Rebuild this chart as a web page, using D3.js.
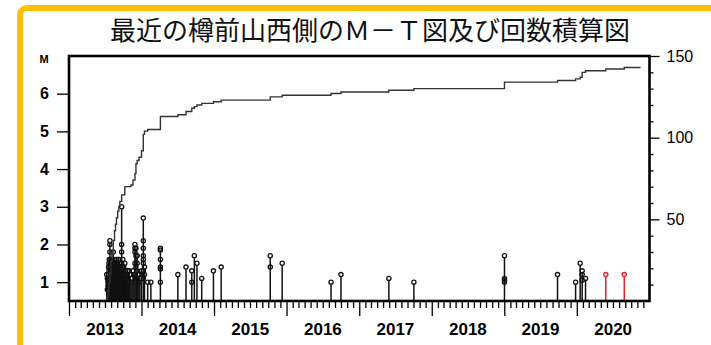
<!DOCTYPE html>
<html>
<head>
<meta charset="utf-8">
<script src="https://cdn.jsdelivr.net/npm/d3@7"></script>
<style>
  html, body { margin: 0; padding: 0; background: #fff; }
  svg { display: block; }
</style>
</head>
<body>
<svg id="chart" width="711" height="345"></svg>
<script>
// Title
const titleText = "最近の樽前山西側のＭ－Ｔ図及び回数積算図";

// Axis ticks
const yearLabels = ["2013", "2014", "2015", "2016", "2017", "2018", "2019", "2020"];
const magTicks = [1, 2, 3, 4, 5, 6];
const countTicks = [50, 100, 150];
const countMinorTicks = [10, 20, 30, 40, 60, 70, 80, 90, 110, 120, 130, 140];

// Earthquakes: date and magnitude (black)
const quakeDates = [
  "2013-07-10", "2013-07-13", "2013-07-13", "2013-07-16", "2013-07-16", "2013-07-19", "2013-07-19",
  "2013-07-21", "2013-07-21", "2013-07-23", "2013-07-23",
  "2013-07-26", "2013-07-26", "2013-07-26", "2013-07-26", "2013-07-26", "2013-07-28", "2013-07-28",
  "2013-07-31", "2013-07-31", "2013-07-31", "2013-08-02", "2013-08-02",
  "2013-08-05", "2013-08-05", "2013-08-05", "2013-08-08", "2013-08-08",
  "2013-08-12", "2013-08-12", "2013-08-12", "2013-08-15", "2013-08-15",
  "2013-08-18", "2013-08-18", "2013-08-18", "2013-08-20", "2013-08-20",
  "2013-08-23", "2013-08-23", "2013-08-26", "2013-08-28", "2013-08-28", "2013-08-28", "2013-08-31",
  "2013-09-03", "2013-09-03", "2013-09-03", "2013-09-06", "2013-09-06", "2013-09-09", "2013-09-09",
  "2013-09-12", "2013-09-14", "2013-09-14", "2013-09-18", "2013-09-18",
  "2013-09-23", "2013-09-23", "2013-09-23", "2013-09-23", "2013-09-26",
  "2013-09-29", "2013-09-29", "2013-10-01", "2013-10-04", "2013-10-06", "2013-10-09", "2013-10-09",
  "2013-10-13", "2013-10-17", "2013-10-20", "2013-10-24", "2013-10-27", "2013-10-31",
  "2013-11-04", "2013-11-09", "2013-11-14", "2013-11-19", "2013-11-24",
  "2013-11-29", "2013-11-29", "2013-11-29", "2013-11-29", "2013-11-29",
  "2013-12-04", "2013-12-04", "2013-12-04", "2013-12-07", "2013-12-10", "2013-12-10", "2013-12-10",
  "2013-12-14", "2013-12-19", "2013-12-19", "2013-12-24", "2014-01-01",
  "2014-01-10", "2014-01-10", "2014-01-10", "2014-01-10", "2014-01-10", "2014-01-10", "2014-01-10", "2014-01-10",
  "2014-01-16", "2014-01-16", "2014-02-01", "2014-02-17",
  "2014-04-06", "2014-04-06", "2014-04-06", "2014-04-06", "2014-04-06", "2014-04-06",
  "2014-07-03", "2014-08-13", "2014-09-11", "2014-09-11", "2014-09-24", "2014-10-07",
  "2014-10-31", "2014-12-29", "2015-02-06", "2015-10-11", "2015-10-11", "2015-12-10",
  "2016-08-12", "2016-10-01", "2017-05-30", "2017-10-03",
  "2019-01-02", "2019-01-02", "2019-01-02", "2019-01-02",
  "2019-09-26", "2019-12-26", "2020-01-18", "2020-01-28", "2020-01-28", "2020-01-28", "2020-02-14"
];
const quakeMags = [
  1.2, 1.1, 0.8, 1.0, 0.9, 1.4, 1.2,
  1.5, 1.3, 1.6, 1.1,
  2.1, 2.0, 1.8, 1.6, 1.4, 1.5, 1.2,
  1.6, 1.2, 0.9, 1.4, 1.0,
  1.5, 1.3, 1.1, 1.6, 1.2,
  1.8, 1.5, 1.2, 1.4, 1.0,
  1.6, 1.4, 1.0, 1.5, 1.2,
  1.5, 1.3, 1.4, 1.6, 1.2, 1.0, 1.3,
  1.5, 1.4, 1.1, 1.6, 1.2, 1.6, 1.3,
  1.4, 1.4, 1.0, 1.5, 1.1,
  3.0, 2.0, 1.8, 1.5, 1.4,
  1.6, 1.3, 1.2, 1.4, 1.1, 1.5, 1.2,
  1.3, 1.1, 1.2, 1.3, 1.0, 1.3,
  1.2, 1.0, 1.1, 1.3, 1.2,
  2.0, 1.9, 1.8, 1.5, 1.2,
  1.9, 1.7, 1.4, 1.3, 1.7, 1.5, 1.1,
  1.2, 1.2, 1.0, 1.1, 1.3,
  2.7, 2.1, 1.9, 1.7, 1.6, 1.5, 1.3, 1.1,
  1.4, 1.2, 1.0, 1.0,
  1.9, 1.85, 1.6, 1.4, 1.35, 1.0,
  1.2, 1.4, 1.3, 1.0, 1.7, 1.5,
  1.1, 1.3, 1.4, 1.7, 1.4, 1.5,
  1.0, 1.2, 1.1, 1.0,
  1.7, 1.1, 1.05, 1.0,
  1.2, 1.0, 1.5, 1.3, 1.2, 1.05, 1.1
];

// Most recent earthquakes (red)
const recentDates = ["2020-05-26", "2020-08-27"];
const recentMags = [1.2, 1.2];

// Cumulative number of earthquakes (step after each date)
const cumDates = [
  "2013-07-09", "2013-07-10", "2013-07-16", "2013-07-21", "2013-07-26", "2013-07-31",
  "2013-08-05", "2013-08-12", "2013-08-18", "2013-08-23", "2013-08-28", "2013-09-03",
  "2013-09-09", "2013-09-14", "2013-09-23", "2013-10-09", "2013-11-09", "2013-11-19",
  "2013-11-29", "2013-12-04", "2013-12-10", "2013-12-19", "2014-01-01", "2014-01-10",
  "2014-01-16", "2014-02-01", "2014-04-06", "2014-07-03", "2014-08-13", "2014-09-11",
  "2014-09-24", "2014-10-07", "2014-10-31", "2014-12-29", "2015-02-06", "2015-10-11",
  "2015-12-10", "2016-08-12", "2016-10-01", "2017-05-30", "2017-10-03", "2019-01-02",
  "2019-09-26", "2019-12-26", "2020-01-18", "2020-01-28", "2020-02-14", "2020-05-26",
  "2020-08-27", "2020-11-17"
];
const cumCounts = [
  0, 2, 6, 11, 17, 24,
  30, 37, 43, 47, 51, 55,
  58, 61, 65, 70, 71, 74,
  78, 84, 86, 88, 92, 102,
  104, 105, 113, 114, 116, 118,
  119, 120, 121, 122, 123, 125,
  126, 127, 128, 129, 130, 134,
  135, 136, 137, 140, 141, 142,
  143, 143
];

const parse = d3.timeParse("%Y-%m-%d");
const svg = d3.select("#chart");

const plot = { left: 69, right: 649.5, top: 56, bottom: 301 };
const dotR = 2.1;

const x = d3.scaleTime()
  .domain([new Date(2013, 0, 1), new Date(2021, 0, 1)])
  .range([plot.left, plot.right]);
const yMag = d3.scaleLinear().domain([0.5, 7]).range([plot.bottom, plot.top]);
const yCount = d3.scaleLinear().domain([0, 150]).range([plot.bottom, plot.top]);

// Page background and frame
svg.append("rect").attr("width", 711).attr("height", 345).attr("fill", "#fff");
svg.append("rect")
  .attr("x", 20).attr("y", 8).attr("width", 730).attr("height", 380)
  .attr("rx", 7)
  .attr("fill", "none").attr("stroke", "#FFC000").attr("stroke-width", 6);

// Title
svg.append("text")
  .attr("x", 370).attr("y", 28)
  .attr("text-anchor", "middle").attr("dominant-baseline", "central")
  .style("font-family", "'Noto Sans CJK JP', 'Noto Sans', sans-serif")
  .style("font-size", "26px")
  .attr("fill", "#111")
  .text(titleText);

// Events grouped by date
function groupEvents(dates, mags) {
  const m = d3.rollup(dates.map((d, i) => ({ date: d, mag: mags[i] })),
    v => v.map(e => e.mag), e => e.date);
  return Array.from(m, ([date, list]) => ({ date: parse(date), mags: list }));
}

function drawEvents(groups, color) {
  const g = svg.append("g");
  g.selectAll("line").data(groups).join("line")
    .attr("x1", d => x(d.date)).attr("x2", d => x(d.date))
    .attr("y1", yMag(0.5)).attr("y2", d => yMag(d3.max(d.mags)) + dotR)
    .attr("stroke", color).attr("stroke-width", 1.5);
  const pts = groups.flatMap(d => d.mags.map(m => ({ date: d.date, mag: m })));
  g.selectAll("circle").data(pts).join("circle")
    .attr("cx", d => x(d.date)).attr("cy", d => yMag(d.mag))
    .attr("r", dotR)
    .attr("fill", "none").attr("stroke", color).attr("stroke-width", 1.3);
}

drawEvents(groupEvents(quakeDates, quakeMags), "#111");
drawEvents(groupEvents(recentDates, recentMags), "#e8202a");

// Cumulative count line
const cum = cumDates.map((d, i) => ({ date: parse(d), n: cumCounts[i] }));
svg.append("path")
  .datum(cum)
  .attr("fill", "none").attr("stroke", "#333").attr("stroke-width", 1.4)
  .attr("d", d3.line().x(d => x(d.date)).y(d => yCount(d.n)).curve(d3.curveStepAfter));

// Plot frame
svg.append("rect")
  .attr("x", plot.left).attr("y", plot.top)
  .attr("width", plot.right - plot.left).attr("height", plot.bottom - plot.top)
  .attr("fill", "none").attr("stroke", "#000").attr("stroke-width", 2.6);

function styleAxis(g) {
  g.select(".domain").remove();
  g.selectAll(".tick line").attr("stroke", "#000").attr("stroke-width", 1.3);
  g.selectAll("text")
    .style("font-family", "'Liberation Sans', Arial, sans-serif")
    .attr("fill", "#000");
}

// Left magnitude axis
svg.append("g")
  .attr("transform", `translate(${plot.left},0)`)
  .call(d3.axisLeft(yMag).tickValues(magTicks).tickFormat(d3.format("d")).tickSize(12).tickPadding(8))
  .call(styleAxis)
  .call(g => g.selectAll("text").style("font-size", "16px").style("font-weight", "bold"));

svg.append("text")
  .attr("x", 44).attr("y", 59)
  .attr("text-anchor", "middle").attr("dominant-baseline", "central")
  .style("font-family", "'Liberation Sans', Arial, sans-serif")
  .style("font-size", "11px").style("font-weight", "bold")
  .text("M");

// Right cumulative-count axis
svg.append("g")
  .attr("transform", `translate(${plot.right},0)`)
  .call(d3.axisRight(yCount).tickValues(countTicks).tickSize(10).tickPadding(7))
  .call(styleAxis)
  .call(g => g.selectAll("text").style("font-size", "16px"));
svg.append("g")
  .attr("transform", `translate(${plot.right},0)`)
  .call(d3.axisRight(yCount).tickValues(countMinorTicks).tickSize(4).tickFormat(""))
  .call(styleAxis);

// Bottom time axis: monthly minor ticks, yearly major ticks
const months = d3.timeMonth.range(new Date(2013, 0, 1), new Date(2020, 11, 2))
  .filter(d => d.getMonth() !== 0);
const yearStarts = d3.timeYear.range(new Date(2013, 0, 1), new Date(2020, 0, 2));
svg.append("g")
  .attr("transform", `translate(0,${plot.bottom})`)
  .call(d3.axisBottom(x).tickValues(months).tickSize(7).tickFormat(""))
  .call(styleAxis);
svg.append("g")
  .attr("transform", `translate(0,${plot.bottom})`)
  .call(d3.axisBottom(x).tickValues(yearStarts).tickSize(15).tickFormat(""))
  .call(styleAxis);

svg.append("g").selectAll("text").data(yearLabels).join("text")
  .attr("x", d => x(new Date(+d, 6, 2)))
  .attr("y", 329)
  .attr("text-anchor", "middle").attr("dominant-baseline", "central")
  .style("font-family", "'Liberation Sans', Arial, sans-serif")
  .style("font-size", "17px").style("font-weight", "bold")
  .text(d => d);
</script>
</body>
</html>
